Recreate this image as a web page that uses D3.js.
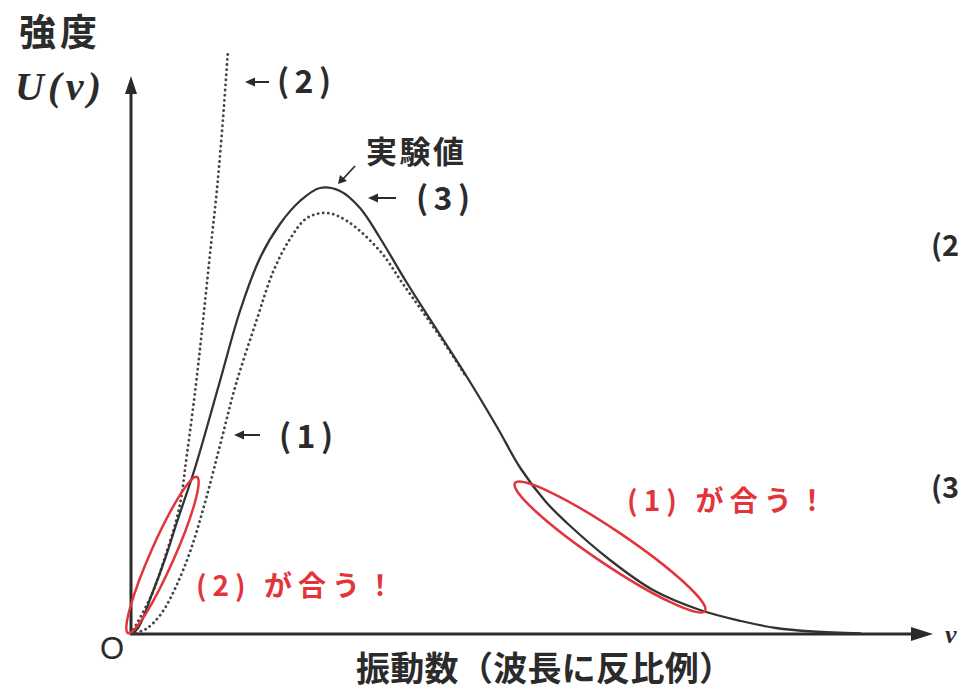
<!DOCTYPE html>
<html>
<head>
<meta charset="utf-8">
<script src="https://cdn.jsdelivr.net/npm/d3@7"></script>
<style>
  html, body { margin: 0; padding: 0; background: #fff; }
  svg { display: block; }
</style>
</head>
<body>
<div id="chart"></div>
<script>
const nuExp = [0, 0.14, 0.42, 0.68, 0.94, 1.28, 1.78, 2.18, 2.58, 2.98, 3.38, 3.78, 4.18, 4.58, 4.98,
               5.52, 6.12, 6.72, 7.32, 7.8, 8.3, 8.72, 9.58, 10.44, 11.38, 12.2, 12.9, 13.64, 14.6];
const uExp  = [0, 0.12, 0.80, 1.50, 2.30, 3.32, 5.06, 6.46, 7.52, 8.20, 8.66, 8.92, 8.86, 8.52, 7.92,
               7.02, 6.08, 5.14, 4.14, 3.3, 2.64, 2.22, 1.48, 0.88, 0.48, 0.26, 0.12, 0.05, 0.01];

// Wien (1), dotted
const nuWien = [0, 0.3, 0.6, 0.9, 1.2, 1.5, 1.8, 2.1, 2.52, 2.84, 3.18, 3.52, 3.92, 4.32, 4.98, 5.44, 6.2, 6.72];
const uWien  = [0, 0.1, 0.4, 0.95, 1.7, 2.7, 3.85, 5.0, 6.3, 7.24, 7.9, 8.32, 8.42, 8.26, 7.66, 7.0, 5.92, 5.12];

// Rayleigh-Jeans (2), dotted
const nuRJ = [0, 0.42, 0.7, 0.96, 1.12, 1.3, 1.44, 1.58, 1.72, 1.84, 1.94];
const uRJ  = [0, 0.8, 1.6, 2.5, 3.6, 5.0, 6.26, 7.6, 8.9, 10.3, 11.68];

// regions where a law fits: ends of the ellipse's long axis, in data units
const fitRegions = [
  { from: [-0.06, 0.02], to: [1.32, 3.14] },
  { from: [7.68, 3.02], to: [11.48, 0.46] }
];

const W = 963, H = 691;
const INK = "#2b2b2b";
const CURVE = "#333";
const DOT = "#444";
const RED = "#e2353b";
const JP = "'Noto Sans CJK JP', 'Noto Sans', sans-serif";

const x = d3.scaleLinear().domain([0, 16]).range([131, 931]);
const y = d3.scaleLinear().domain([0, 11.2]).range([634, 74]);

const svg = d3.select("#chart").append("svg")
  .attr("width", W).attr("height", H)
  .attr("viewBox", `0 0 ${W} ${H}`);

svg.append("rect").attr("width", W).attr("height", H).attr("fill", "#fff");

const line = d3.line()
  .x(d => x(d[0])).y(d => y(d[1]))
  .curve(d3.curveCatmullRom.alpha(0.5));

const zip = (a, b) => a.map((v, i) => [v, b[i]]);

// Axes
const x0 = x(0), y0 = y(0);
svg.append("line")
  .attr("x1", x0).attr("y1", y0).attr("x2", x.range()[1] - 10).attr("y2", y0)
  .attr("stroke", INK).attr("stroke-width", 3);
svg.append("path")
  .attr("d", `M${x.range()[1] + 2},${y0} L${x.range()[1] - 20},${y0 - 7} L${x.range()[1] - 20},${y0 + 7} Z`)
  .attr("fill", INK);
svg.append("line")
  .attr("x1", x0).attr("y1", y0).attr("x2", x0).attr("y2", y.range()[1] + 12)
  .attr("stroke", INK).attr("stroke-width", 3);
svg.append("path")
  .attr("d", `M${x0},${y.range()[1] + 2} L${x0 - 6},${y.range()[1] + 20} L${x0 + 6},${y.range()[1] + 20} Z`)
  .attr("fill", INK);

// Dotted theory curves
[[nuRJ, uRJ], [nuWien, uWien]].forEach(([a, b]) => {
  svg.append("path")
    .datum(zip(a, b))
    .attr("d", line)
    .attr("fill", "none").attr("stroke", DOT)
    .attr("stroke-width", 2.8).attr("stroke-linecap", "round")
    .attr("stroke-dasharray", "0.1 5");
});

// Experimental / Planck
svg.append("path")
  .datum(zip(nuExp, uExp))
  .attr("d", line)
  .attr("fill", "none").attr("stroke", CURVE)
  .attr("stroke-width", 2.3);

// Red ellipses
const semiMinor = [12, 17];
fitRegions.forEach((r, i) => {
  const ax = x(r.from[0]), ay = y(r.from[1]);
  const bx = x(r.to[0]), by = y(r.to[1]);
  const cx = (ax + bx) / 2, cy = (ay + by) / 2;
  const rx = Math.hypot(bx - ax, by - ay) / 2;
  const ang = Math.atan2(by - ay, bx - ax) * 180 / Math.PI;
  svg.append("ellipse")
    .attr("cx", cx).attr("cy", cy)
    .attr("rx", rx).attr("ry", semiMinor[i])
    .attr("transform", `rotate(${ang},${cx},${cy})`)
    .attr("fill", "none").attr("stroke", RED).attr("stroke-width", 2.5);
});

// small "←" pointers
function leftArrow(px, py, len) {
  svg.append("line")
    .attr("x1", px + 7).attr("y1", py).attr("x2", px + len).attr("y2", py)
    .attr("stroke", INK).attr("stroke-width", 2);
  svg.append("path")
    .attr("d", `M${px},${py} L${px + 10},${py - 4.5} L${px + 10},${py + 4.5} Z`)
    .attr("fill", INK);
}

function label(txt, px, py, size, len, opts = {}) {
  const t = svg.append("text")
    .attr("x", px).attr("y", py)
    .attr("font-family", opts.family || JP)
    .attr("font-size", size)
    .attr("font-weight", opts.weight || 700)
    .attr("font-style", opts.style || "normal")
    .attr("fill", opts.fill || INK)
    .text(txt);
  if (len) t.attr("textLength", len).attr("lengthAdjust", "spacing");
  return t;
}

leftArrow(245, 82, 24);
label("(2)", 277, 93, 32, 54);

leftArrow(368, 198, 28);
label("(3)", 416, 210, 32, 54);

leftArrow(234, 435, 26);
label("(1)", 279, 448, 32, 54);

// 実験値 pointer
svg.append("line")
  .attr("x1", 355).attr("y1", 166).attr("x2", 343).attr("y2", 179)
  .attr("stroke", INK).attr("stroke-width", 1.8);
svg.append("path")
  .attr("d", "M338,184 L340,175 L347,181 Z")
  .attr("fill", INK);
label("実験値", 366, 163, 31, 98);

// red captions
label("(2) が合う！", 196, 596, 28, 198, { fill: RED });
label("(1) が合う！", 627, 511, 28, 199, { fill: RED });

// axis labels
label("強度", 19, 46, 37, 78);
label("U(ν)", 15, 100, 40, 86, { family: "'Liberation Serif', 'DejaVu Serif', serif", style: "italic" });
label("O", 100, 659, 31, null, { family: "'Liberation Sans', Arial, sans-serif", weight: 400 });
label("振動数（波長に反比例）", 356, 681, 34, 377);

// fragments of the neighbouring column at the right edge of the scan
label("(2", 931, 256, 29, null);
label("(3", 931, 498, 29, null);
label("ν", 945, 643, 26, null, { family: "'Liberation Serif', serif", style: "italic" });
</script>
</body>
</html>
